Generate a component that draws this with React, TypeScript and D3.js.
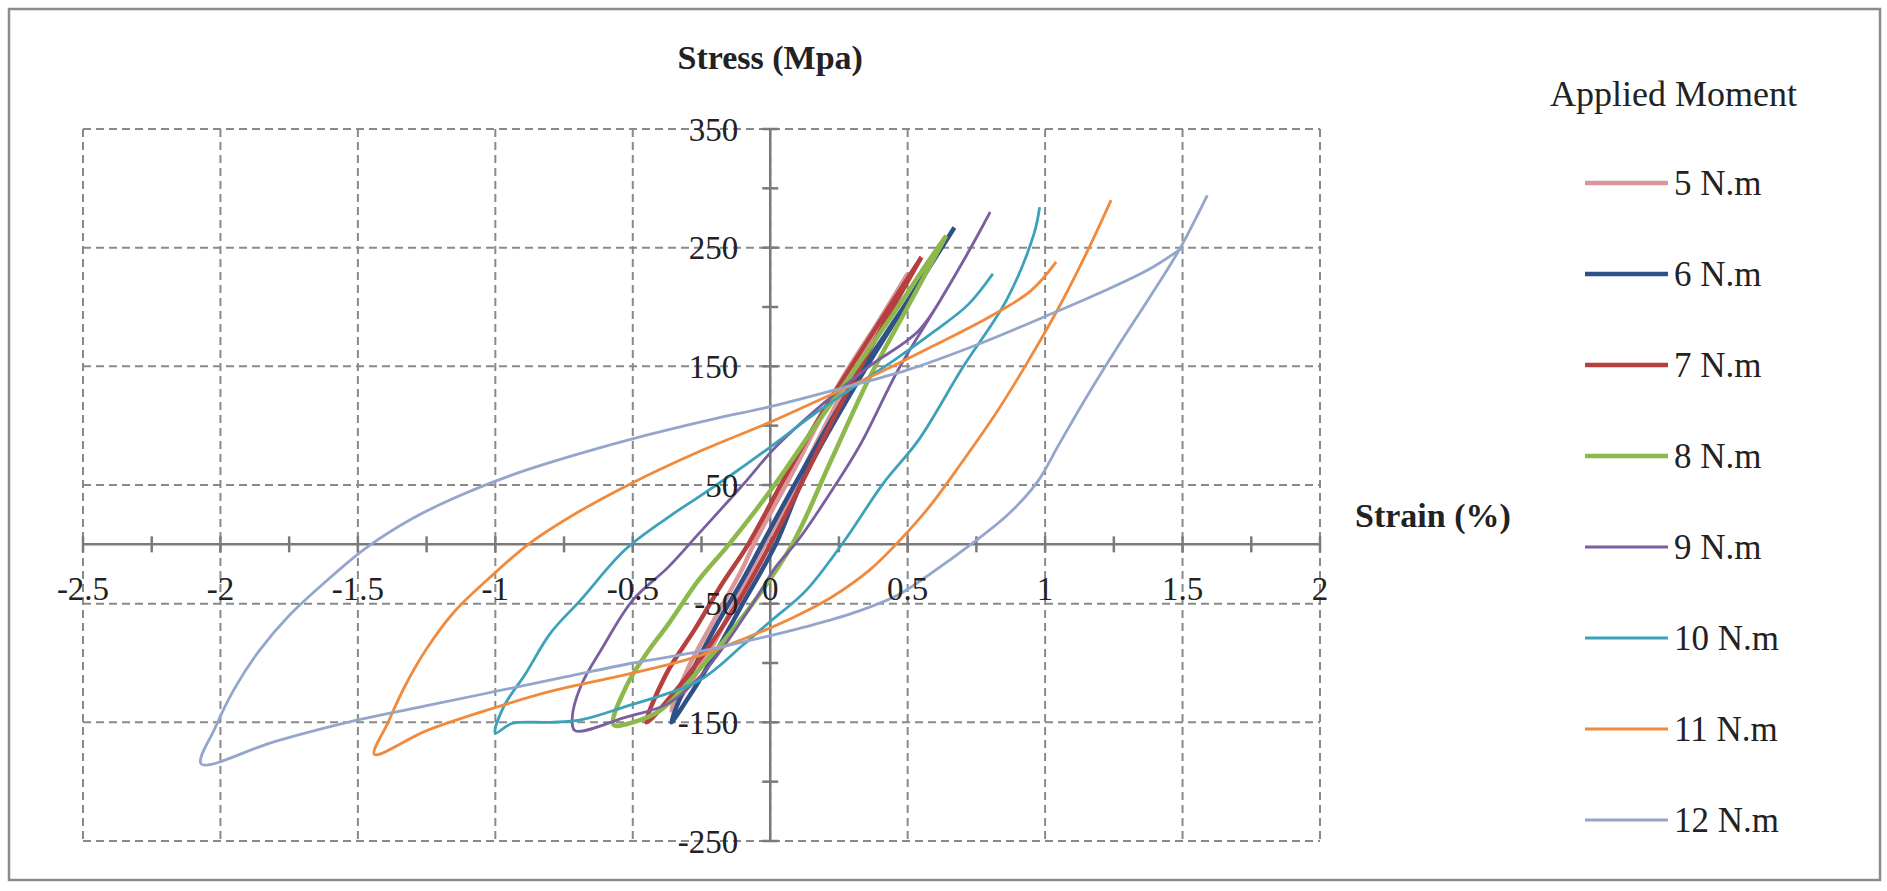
import React, { useEffect, useRef } from "react";
import * as d3 from "d3";

// legend entries, in drawing order
const moments = ["5 N.m", "6 N.m", "7 N.m", "8 N.m", "9 N.m", "10 N.m", "11 N.m", "12 N.m"];
const colors = ["#d9979a", "#2e5189", "#b5403f", "#8cb84c", "#7a5fa0", "#3ca2ba", "#f08a3c", "#95a6cc"];

// [strain %, stress MPa]
const loop5: [number, number][] = [
  [0.5, 228], [0.35, 165], [0.2, 100], [0.05, 30], [-0.02, 0], [-0.12, -45], [-0.22, -90], [-0.3, -120], [-0.36, -140],
  [-0.3, -105], [-0.2, -62], [-0.1, -20], [-0.06, 0], [0.08, 60], [0.25, 135], [0.4, 190], [0.5, 228],
];
const loop6: [number, number][] = [
  [0.67, 267], [0.5, 205], [0.3, 130], [0.12, 55], [0.02, 0], [-0.1, -50], [-0.22, -100], [-0.3, -130], [-0.36, -150],
  [-0.3, -115], [-0.2, -70], [-0.1, -30], [-0.03, 0], [0.1, 55], [0.3, 135], [0.5, 205], [0.67, 267],
];
const loop7: [number, number][] = [
  [0.55, 242], [0.4, 180], [0.25, 115], [0.1, 45], [0, 0], [-0.12, -50], [-0.25, -95], [-0.35, -125], [-0.45, -150],
  [-0.38, -110], [-0.27, -70], [-0.18, -35], [-0.08, 0], [0.05, 55], [0.2, 115], [0.35, 170], [0.55, 242],
];
const loop8: [number, number][] = [
  [0.64, 260], [0.5, 200], [0.36, 140], [0.22, 70], [0.08, 0], [-0.08, -55], [-0.26, -106], [-0.4, -140], [-0.5, -150], [-0.57, -152],
  [-0.52, -118], [-0.45, -92], [-0.37, -67], [-0.26, -30], [-0.15, 0], [0, 45], [0.15, 95], [0.3, 145], [0.45, 195], [0.58, 240], [0.64, 260],
];
const loop9: [number, number][] = [
  [0.8, 280], [0.73, 250], [0.62, 206], [0.47, 149], [0.33, 85], [0.24, 51], [0.1, 3], [0.02, -19], [-0.05, -45],
  [-0.15, -80], [-0.25, -110], [-0.37, -134], [-0.53, -146], [-0.71, -157],
  [-0.72, -146], [-0.69, -120], [-0.61, -87], [-0.5, -47], [-0.37, -19], [-0.26, 9], [-0.1, 50], [0.02, 82],
  [0.2, 120], [0.36, 150], [0.54, 180], [0.66, 222], [0.8, 280],
];
const loop10: [number, number][] = [
  [0.98, 284], [0.96, 262], [0.86, 206], [0.7, 149], [0.54, 88], [0.41, 51], [0.27, 3], [0.13, -39], [0, -65],
  [-0.1, -85], [-0.26, -115], [-0.53, -137], [-0.69, -148], [-0.8, -150], [-0.94, -151], [-1.0, -159],
  [-0.97, -137], [-0.89, -109], [-0.8, -75], [-0.69, -47], [-0.53, -5], [-0.37, 23], [-0.26, 40], [-0.12, 62],
  [0, 82], [0.15, 108], [0.3, 132], [0.45, 155], [0.6, 180], [0.72, 202], [0.81, 228],
];
const loop11: [number, number][] = [
  [1.24, 290], [1.16, 250], [1.06, 204], [0.94, 155], [0.82, 110], [0.7, 70], [0.58, 32], [0.47, 3], [0.36, -22],
  [0.22, -45], [0.08, -62], [-0.1, -80], [-0.3, -97], [-0.55, -111], [-0.8, -124], [-1.02, -139], [-1.25, -157], [-1.44, -177],
  [-1.39, -150], [-1.33, -120], [-1.25, -88], [-1.15, -57], [-1.02, -28], [-0.88, 0], [-0.7, 27], [-0.5, 52], [-0.26, 78],
  [0, 103], [0.2, 124], [0.4, 145], [0.6, 168], [0.8, 192], [0.95, 214], [1.04, 238],
];
const loop12: [number, number][] = [
  [1.59, 294], [1.49, 249], [1.38, 208], [1.26, 165], [1.14, 120], [1.05, 84], [0.97, 52], [0.86, 24], [0.73, 0],
  [0.6, -22], [0.47, -42], [0.3, -58], [0.12, -70], [0, -77], [-0.25, -90], [-0.5, -100], [-0.75, -112], [-1.0, -124],
  [-1.25, -136], [-1.5, -148], [-1.8, -166], [-2.07, -185],
  [-2.02, -155], [-1.95, -122], [-1.86, -90], [-1.75, -60], [-1.62, -32], [-1.47, -3], [-1.3, 22], [-1.12, 42],
  [-0.92, 60], [-0.7, 76], [-0.45, 92], [-0.2, 106], [0, 116], [0.25, 131], [0.5, 147], [0.75, 168], [1.0, 192],
  [1.2, 212], [1.38, 232], [1.5, 250],
];
const loops = [loop5, loop6, loop7, loop8, loop9, loop10, loop11, loop12];

const xTicks = [-2.5, -2, -1.5, -1, -0.5, 0, 0.5, 1, 1.5, 2];
const yTicks = [350, 250, 150, 50, -50, -150, -250];

const W = 1887, H = 891;
const serif = "'Liberation Serif', 'Times New Roman', serif";

const App = () => {
  const ref = useRef<SVGSVGElement>(null);

  useEffect(() => {
    const svg = d3.select(ref.current);
    svg.selectAll("*").remove();

    const x = d3.scaleLinear([-2.5, 2], [83, 1320]);
    const y = d3.scaleLinear([-250, 350], [841, 129]);
    const grey = "#8a8a8a";

    svg.append("rect").attr("width", W).attr("height", H).attr("fill", "#fff");
    svg.append("rect")
      .attr("x", 9).attr("y", 9).attr("width", 1871).attr("height", 871)
      .attr("fill", "none").attr("stroke", "#8c8c8c").attr("stroke-width", 2.5);

    // dashed grid
    const grid = svg.append("g").attr("stroke", grey).attr("stroke-width", 2).attr("stroke-dasharray", "8 5");
    grid.selectAll("line.v").data(xTicks).join("line").attr("class", "v")
      .attr("x1", d => x(d)).attr("x2", d => x(d)).attr("y1", y(350)).attr("y2", y(-250));
    grid.selectAll("line.h").data(yTicks).join("line").attr("class", "h")
      .attr("x1", x(-2.5)).attr("x2", x(2)).attr("y1", d => y(d)).attr("y2", d => y(d));

    // axes through the origin
    const axes = svg.append("g").attr("stroke", "#7a7a7a").attr("stroke-width", 2.5);
    axes.append("line").attr("x1", x(-2.5)).attr("x2", x(2)).attr("y1", y(0)).attr("y2", y(0));
    axes.append("line").attr("x1", x(0)).attr("x2", x(0)).attr("y1", y(350)).attr("y2", y(-250));
    axes.selectAll("line.xt").data(d3.range(-2.5, 2.001, 0.25)).join("line").attr("class", "xt")
      .attr("x1", d => x(d)).attr("x2", d => x(d)).attr("y1", y(0) - 8).attr("y2", y(0) + 8);
    axes.selectAll("line.yt").data(d3.range(-250, 351, 50)).join("line").attr("class", "yt")
      .attr("x1", x(0) - 8).attr("x2", x(0) + 8).attr("y1", d => y(d)).attr("y2", d => y(d));

    // curves
    const line = d3.line<[number, number]>()
      .x(d => x(d[0])).y(d => y(d[1]))
      .curve(d3.curveCatmullRom.alpha(0.5));
    svg.append("g").selectAll("path").data(loops).join("path")
      .attr("fill", "none")
      .attr("stroke", (_, i) => colors[i])
      .attr("stroke-width", (_, i) => (i < 4 ? 4.5 : 2.8))
      .attr("stroke-linejoin", "round")
      .attr("d", d => line(d));

    // tick labels
    svg.append("g").selectAll("text").data(xTicks).join("text")
      .attr("x", d => x(d)).attr("y", y(0) + 44)
      .attr("text-anchor", "middle").attr("dy", "0.35em")
      .attr("font-family", serif).attr("font-size", 33).attr("fill", "#222")
      .text(d => String(d));
    svg.append("g").selectAll("text").data(yTicks).join("text")
      .attr("x", x(0) - 32).attr("y", d => y(d))
      .attr("text-anchor", "end").attr("dy", "0.35em")
      .attr("font-family", serif).attr("font-size", 33).attr("fill", "#222")
      .text(d => String(d));

    // axis titles
    svg.append("text").attr("x", x(0)).attr("y", 57).attr("dy", "0.35em")
      .attr("text-anchor", "middle").attr("font-family", serif).attr("font-weight", "bold")
      .attr("font-size", 34).attr("fill", "#222").text("Stress (Mpa)");
    svg.append("text").attr("x", 1355).attr("y", 515).attr("dy", "0.35em")
      .attr("font-family", serif).attr("font-weight", "bold")
      .attr("font-size", 34).attr("fill", "#222").text("Strain (%)");

    // legend
    const legend = svg.append("g");
    legend.append("text").attr("x", 1550).attr("y", 93).attr("dy", "0.35em")
      .attr("font-family", serif).attr("font-size", 36).attr("fill", "#222").text("Applied Moment");
    const item = legend.selectAll("g.item").data(moments).join("g").attr("class", "item")
      .attr("transform", (_, i) => `translate(0, ${183 + i * 91})`);
    item.append("line").attr("x1", 1585).attr("x2", 1668)
      .attr("stroke", (_, i) => colors[i]).attr("stroke-width", (_, i) => (i < 4 ? 4.5 : 3));
    item.append("text").attr("x", 1674).attr("dy", "0.35em")
      .attr("font-family", serif).attr("font-size", 35).attr("fill", "#222").text(d => d);
  }, []);

  return (
    <svg ref={ref} width={W} height={H}
      style={{ position: "absolute", left: 0, top: 0, display: "block" }} />
  );
};

export default App;
